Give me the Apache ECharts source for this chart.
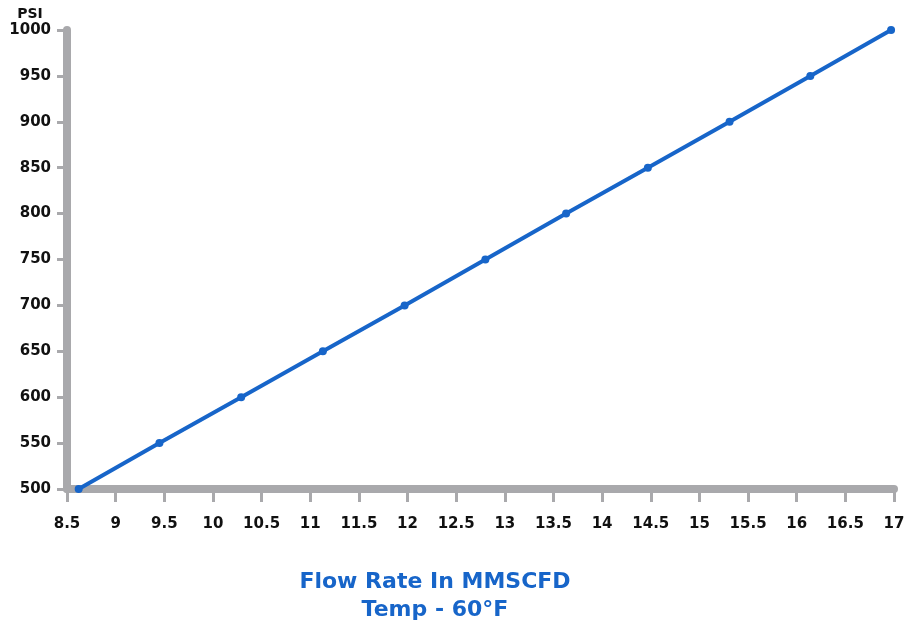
<!DOCTYPE html>
<html>
<head>
<meta charset="utf-8">
<script src="https://cdn.jsdelivr.net/npm/echarts@6/dist/echarts.min.js"></script>
<style>html,body{margin:0;padding:0;background:#fff}#c{width:915px;height:622px}</style>
</head>
<body>
<div id="c"></div>
<script>
// Data
const flowRate = [8.62, 9.45, 10.29, 11.13, 11.97, 12.80, 13.63, 14.47, 15.31, 16.14, 16.97];
const psi = [500, 550, 600, 650, 700, 750, 800, 850, 900, 950, 1000];
const xMin = 8.5, xMax = 17, xStep = 0.5;
const yMin = 500, yMax = 1000, yStep = 50;
const yAxisName = 'PSI';
const titleLines = ['Flow Rate In MMSCFD', 'Temp - 60°F'];

const chart = echarts.init(document.getElementById('c'));
const axisGray = '#a9a9ac';
const blue = '#1765c9';
const font = 'DejaVu Sans';
chart.setOption({
  animation: false,
  grid: { left: 67, right: 21, top: 30, bottom: 133, containLabel: false },
  xAxis: {
    type: 'value', min: xMin, max: xMax, interval: xStep,
    axisLine: { show: true, lineStyle: { color: axisGray, width: 8 } },
    axisTick: { show: true, length: 13, lineStyle: { color: axisGray, width: 3 } },
    axisLabel: { margin: 28, color: '#111', fontFamily: font, fontWeight: 'bold', fontSize: 15,
      formatter: v => String(v), showMinLabel: true, showMaxLabel: true },
    splitLine: { show: false }
  },
  yAxis: {
    type: 'value', min: yMin, max: yMax, interval: yStep,
    axisLine: { show: true, lineStyle: { color: axisGray, width: 8 } },
    axisTick: { show: true, length: 10, lineStyle: { color: axisGray, width: 3 } },
    axisLabel: { margin: 16, color: '#111', fontFamily: font, fontWeight: 'bold', fontSize: 15,
      formatter: v => String(v) },
    splitLine: { show: false }
  },
  graphic: [
    { type: 'text', x: 30, y: 14, style: { text: yAxisName, align: 'center', verticalAlign: 'middle',
      font: 'bold 14px "DejaVu Sans"', fill: '#111' } },
    { type: 'text', x: 435, y: 582, style: { text: titleLines[0], align: 'center', verticalAlign: 'middle',
      font: 'bold 22px "DejaVu Sans"', fill: blue } },
    { type: 'text', x: 435, y: 610, style: { text: titleLines[1], align: 'center', verticalAlign: 'middle',
      font: 'bold 22px "DejaVu Sans"', fill: blue } }
  ],
  series: [{
    type: 'line',
    data: flowRate.map((x, i) => [x, psi[i]]),
    symbol: 'circle', symbolSize: 8,
    lineStyle: { color: blue, width: 4 },
    itemStyle: { color: blue },
    z: 5
  }]
});
</script>
</body>
</html>
